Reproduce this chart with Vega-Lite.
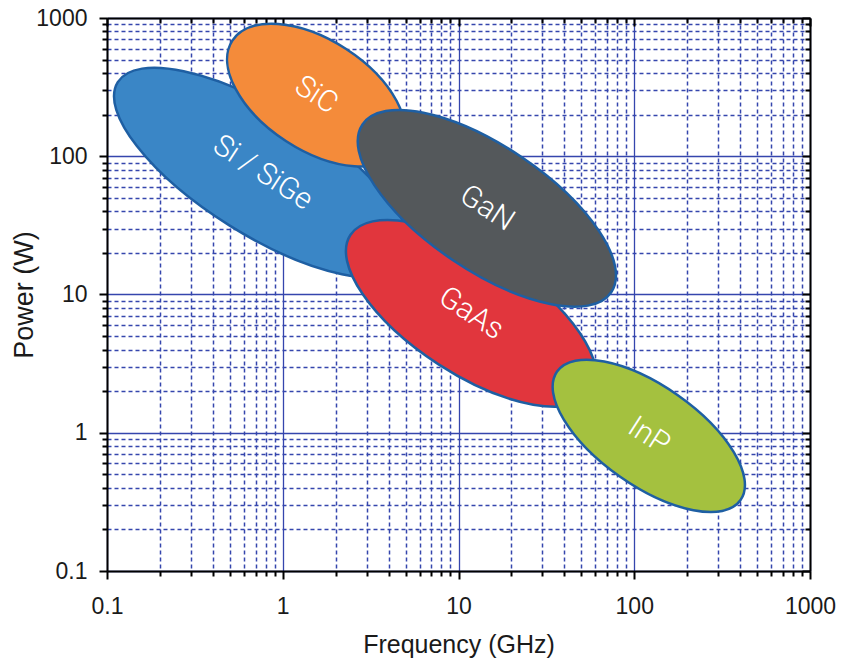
{
  "$schema": "https://vega.github.io/schema/vega-lite/v6.json",
  "width": 703,
  "height": 553,
  "autosize": "none",
  "padding": {"left": 107, "top": 18, "right": 33, "bottom": 91},
  "background": "white",
  "config": {"view": {"stroke": null}},
  "datasets": {
    "regions": [
      {"material": "Si / SiGe", "freq": 0.77, "power": 76},
      {"material": "SiC", "freq": 1.55, "power": 277},
      {"material": "GaAs", "freq": 11.8, "power": 7.3},
      {"material": "GaN", "freq": 14.5, "power": 42},
      {"material": "InP", "freq": 121, "power": 0.95}
    ]
  },
  "data": {"name": "regions"},
  "layer": [
    {
      "encoding": {
        "x": {
          "field": "freq", "type": "quantitative",
          "scale": {"type": "log", "domain": [0.1, 1000], "nice": false},
          "axis": {
            "orient": "bottom",
            "values": [0.1,0.2,0.3,0.4,0.5,0.6,0.7,0.8,0.9,1,2,3,4,5,6,7,8,9,10,20,30,40,50,60,70,80,90,100,200,300,400,500,600,700,800,900,1000],
            "format": "~g",
            "labelExpr": "abs(log(datum.value)/LN10 - round(log(datum.value)/LN10)) < 0.001 ? datum.label : ''",
            "labelFont": "Liberation Sans", "labelFontSize": 23, "labelColor": "#1a1a1a", "labelPadding": 16,
            "labelFlush": false, "labelOverlap": false,
            "title": "Frequency (GHz)", "titleFont": "Liberation Sans", "titleFontSize": 25, "titleFontWeight": "normal", "titleColor": "#1a1a1a", "titlePadding": 14,
            "domainColor": "#000000", "domainWidth": 2,
            "tickColor": "#000000", "tickWidth": 2,
            "tickSize": {"condition": {"test": "abs(log(datum.value)/LN10 - round(log(datum.value)/LN10)) < 0.001", "value": 8}, "value": 5},
            "grid": true,
            "gridColor": "#3546AD",
            "gridWidth": {"condition": {"test": "abs(log(datum.value)/LN10 - round(log(datum.value)/LN10)) < 0.001", "value": 1.3}, "value": 1.5},
            "gridDash": {"condition": {"test": "abs(log(datum.value)/LN10 - round(log(datum.value)/LN10)) < 0.001", "value": []}, "value": [4, 3]}
          }
        },
        "y": {
          "field": "power", "type": "quantitative",
          "scale": {"type": "log", "domain": [0.1, 1000], "nice": false},
          "axis": {
            "orient": "left",
            "values": [0.1,0.2,0.3,0.4,0.5,0.6,0.7,0.8,0.9,1,2,3,4,5,6,7,8,9,10,20,30,40,50,60,70,80,90,100,200,300,400,500,600,700,800,900,1000],
            "format": "~g",
            "labelExpr": "abs(log(datum.value)/LN10 - round(log(datum.value)/LN10)) < 0.001 ? datum.label : ''",
            "labelFont": "Liberation Sans", "labelFontSize": 23, "labelColor": "#1a1a1a", "labelPadding": 12,
            "labelFlush": false, "labelOverlap": false,
            "title": "Power (W)", "titleFont": "Liberation Sans", "titleFontSize": 27, "titleFontWeight": "normal", "titleColor": "#1a1a1a", "titlePadding": -3,
            "domainColor": "#000000", "domainWidth": 2,
            "tickColor": "#000000", "tickWidth": 2,
            "tickSize": {"condition": {"test": "abs(log(datum.value)/LN10 - round(log(datum.value)/LN10)) < 0.001", "value": 8}, "value": 5},
            "grid": true,
            "gridColor": "#3546AD",
            "gridWidth": {"condition": {"test": "abs(log(datum.value)/LN10 - round(log(datum.value)/LN10)) < 0.001", "value": 1.3}, "value": 1.5},
            "gridDash": {"condition": {"test": "abs(log(datum.value)/LN10 - round(log(datum.value)/LN10)) < 0.001", "value": []}, "value": [4, 3]}
          }
        }
      },
      "layer": [
        {
          "transform": [{"filter": "datum.material == 'Si / SiGe'"}],
          "mark": {"type": "point", "filled": true, "opacity": 1, "fill": "#3A86C6", "fillOpacity": 1, "stroke": "#1E5FA3", "strokeWidth": 2.5, "strokeOpacity": 1,
                   "shape": "M -1 0 A 1 0.365 0 1 1 1 0 A 1 0.365 0 1 1 -1 0 Z", "size": 116964, "angle": 32}
        },
        {
          "transform": [{"filter": "datum.material == 'SiC'"}],
          "mark": {"type": "point", "filled": true, "opacity": 1, "fill": "#F48B3A", "fillOpacity": 1, "stroke": "#1E5FA3", "strokeWidth": 2.5, "strokeOpacity": 1,
                   "shape": "M -1 0 A 1 0.55 0 1 1 1 0 A 1 0.55 0 1 1 -1 0 Z", "size": 40000, "angle": 33}
        },
        {
          "transform": [{"filter": "datum.material == 'GaAs'"}],
          "mark": {"type": "point", "filled": true, "opacity": 1, "fill": "#E1363D", "fillOpacity": 1, "stroke": "#1E5FA3", "strokeWidth": 2.5, "strokeOpacity": 1,
                   "shape": "M -1 0 A 1 0.42 0 1 1 1 0 A 1 0.42 0 1 1 -1 0 Z", "size": 82944, "angle": 33}
        },
        {
          "transform": [{"filter": "datum.material == 'GaN'"}],
          "mark": {"type": "point", "filled": true, "opacity": 1, "fill": "#54585B", "fillOpacity": 1, "stroke": "#1E5FA3", "strokeWidth": 2.5, "strokeOpacity": 1,
                   "shape": "M -1 0 A 1 0.413 0 1 1 1 0 A 1 0.413 0 1 1 -1 0 Z", "size": 90000, "angle": 34}
        },
        {
          "transform": [{"filter": "datum.material == 'InP'"}],
          "mark": {"type": "point", "filled": true, "opacity": 1, "fill": "#A4C13F", "fillOpacity": 1, "stroke": "#1E5FA3", "strokeWidth": 2.5, "strokeOpacity": 1,
                   "shape": "M -1 0 A 1 0.446 0 1 1 1 0 A 1 0.446 0 1 1 -1 0 Z", "size": 50176, "angle": 35}
        },
        {
          "mark": {"type": "text", "font": "Roboto", "fontWeight": 300, "fontSize": 30, "color": "#ffffff", "angle": 33, "align": "center", "baseline": "middle"},
          "encoding": {"text": {"field": "material", "type": "nominal"}}
        }
      ]
    },
    {
      "mark": {"type": "point", "opacity": 0},
      "encoding": {
        "x": {
          "field": "freq", "type": "quantitative",
          "scale": {"type": "log", "domain": [0.1, 1000], "nice": false},
          "axis": {
            "orient": "top",
            "values": [0.1,0.2,0.3,0.4,0.5,0.6,0.7,0.8,0.9,1,2,3,4,5,6,7,8,9,10,20,30,40,50,60,70,80,90,100,200,300,400,500,600,700,800,900,1000],
            "labels": false, "title": null, "grid": false,
            "domainColor": "#000000", "domainWidth": 2,
            "tickColor": "#000000", "tickWidth": 2,
            "tickSize": {"condition": {"test": "abs(log(datum.value)/LN10 - round(log(datum.value)/LN10)) < 0.001", "value": -8}, "value": -5}
          }
        },
        "y": {
          "field": "power", "type": "quantitative",
          "scale": {"type": "log", "domain": [0.1, 1000], "nice": false},
          "axis": {
            "orient": "right",
            "values": [0.1,0.2,0.3,0.4,0.5,0.6,0.7,0.8,0.9,1,2,3,4,5,6,7,8,9,10,20,30,40,50,60,70,80,90,100,200,300,400,500,600,700,800,900,1000],
            "labels": false, "title": null, "grid": false,
            "domainColor": "#000000", "domainWidth": 2,
            "tickColor": "#000000", "tickWidth": 2,
            "tickSize": {"condition": {"test": "abs(log(datum.value)/LN10 - round(log(datum.value)/LN10)) < 0.001", "value": -8}, "value": -5}
          }
        }
      }
    }
  ],
  "resolve": {"axis": {"x": "independent", "y": "independent"}}
}
